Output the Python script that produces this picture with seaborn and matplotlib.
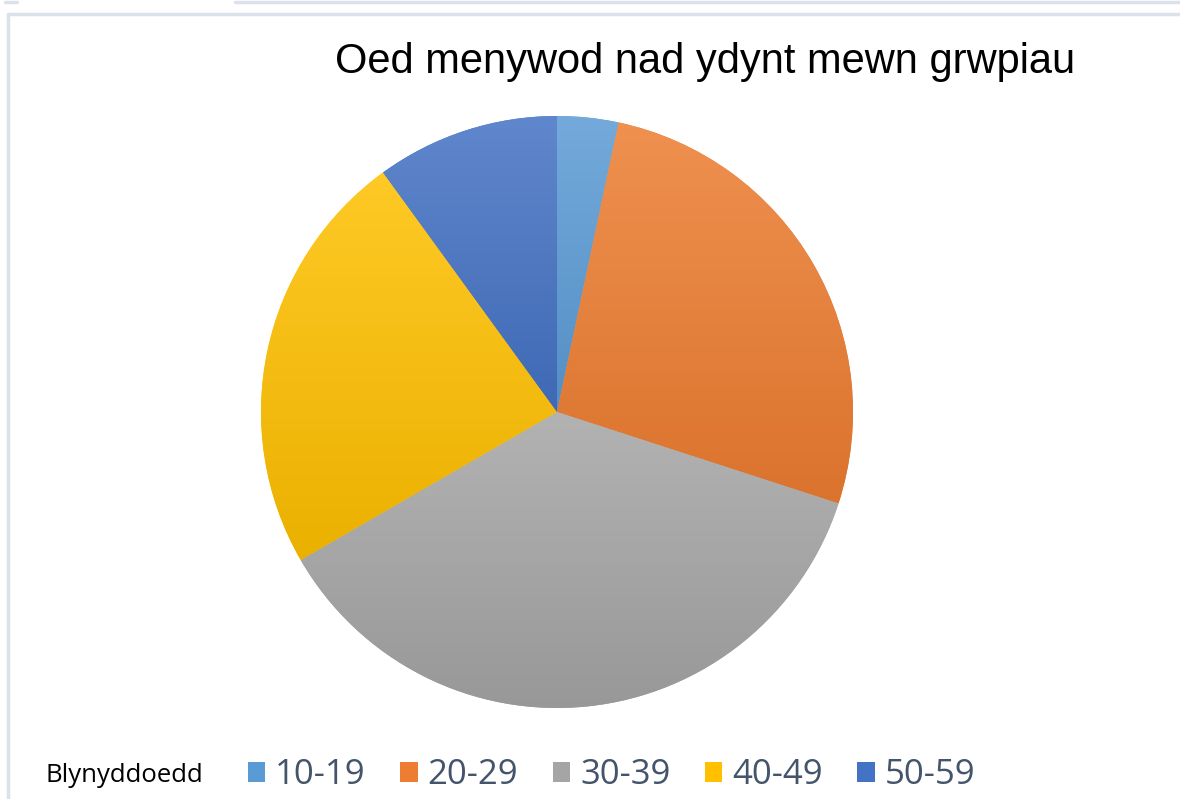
import numpy as np
import matplotlib
matplotlib.use("Agg")
import matplotlib.pyplot as plt
import matplotlib.colors as mcolors
import seaborn as sns
from matplotlib.lines import Line2D
from matplotlib.patches import Patch

sns.set_theme(style="white")

# data: counts per age group
groups = ["10-19", "20-29", "30-39", "40-49", "50-59"]
counts = [1, 8, 11, 7, 3]
colors = ["#5B9BD5", "#ED7D31", "#A5A5A5", "#FFC000", "#4472C4"]
title = "Oed menywod nad ydynt mewn grwpiau"
legend_title = "Blynyddoedd"

fig = plt.figure(figsize=(11.8, 7.99), dpi=100)

# pie axes, square, placed by pixels
W, H = 1180, 799
cx, cy, r = 557, 412, 296
ax = fig.add_axes([(cx - r) / W, (H - cy - r) / H, 2 * r / W, 2 * r / H])

wedges, _ = ax.pie(counts, colors=colors, startangle=90, counterclock=False,
                   radius=1, wedgeprops=dict(linewidth=0))
ax.set_aspect("equal")
ax.axis("off")


def shade(c, f):
    rgb = np.array(mcolors.to_rgb(c))
    if f > 0:
        return rgb + (1 - rgb) * f
    return rgb * (1 + f)


# office-like vertical gradient on each slice
for w, c in zip(wedges, colors):
    verts = w.get_path().vertices
    y0, y1 = verts[:, 1].min(), verts[:, 1].max()
    top = shade(c, 0.15)
    bot = shade(c, -0.08)
    t = np.linspace(0, 1, 256)[:, None]
    grad = top[None, :] * (1 - t) + bot[None, :] * t
    img = ax.imshow(grad[:, None, :].repeat(2, axis=1), extent=[-1, 1, y0, y1],
                    origin="upper", aspect="auto", interpolation="bilinear", zorder=2)
    img.set_clip_path(w)
ax.set_xlim(-1, 1)
ax.set_ylim(-1, 1)

fig.text(705 / W, 1 - 62 / H, title, ha="center", va="center",
         fontsize=30, family=["Liberation Sans", "DejaVu Sans"], color="black")

# frame lines of the screenshot
edge = "#DCE1EA"
fig.add_artist(Line2D([8 / W, 1], [1 - 14 / H] * 2, color=edge, lw=2.5))
fig.add_artist(Line2D([8 / W] * 2, [0, 1 - 14 / H], color=edge, lw=2.5))
fig.add_artist(Line2D([235 / W, 1], [1 - 1.5 / H] * 2, color=edge, lw=2.5))
fig.add_artist(Line2D([5 / W, 17 / W], [1 - 1.5 / H] * 2, color=edge, lw=2.5))

fig.text(45 / W, 1 - 775 / H, legend_title, ha="left", va="center",
         fontsize=18.5, family="Open Sans", color="black")

handles = [Patch(facecolor=c, edgecolor="none") for c in colors]
leg = fig.legend(handles, groups, ncol=5, loc="center left",
                 bbox_to_anchor=(248 / W, 1 - 775 / H), frameon=False,
                 borderpad=0, borderaxespad=0,
                 handlelength=0.5, handleheight=0.5, handletextpad=0.28,
                 columnspacing=1.0, prop=dict(family="Open Sans", size=25))
for txt in leg.get_texts():
    txt.set_color("#44546A")

fig.savefig("out.png", dpi=100, facecolor="white")
